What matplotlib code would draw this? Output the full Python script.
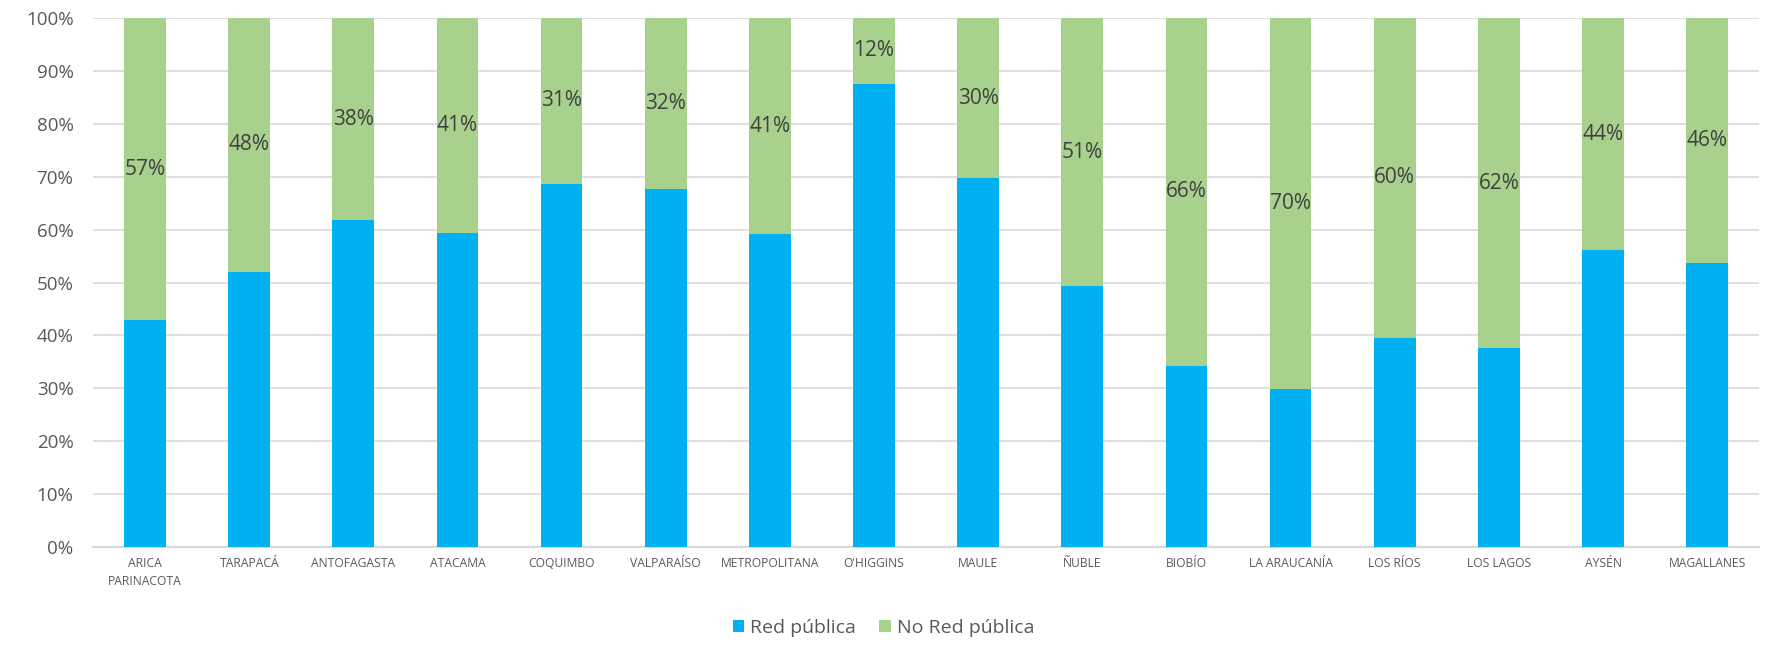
import numpy as np
import matplotlib.pyplot as plt
from matplotlib.ticker import PercentFormatter

# data (percent)
regiones = ['ARICA\nPARINACOTA', 'TARAPACÁ', 'ANTOFAGASTA', 'ATACAMA', 'COQUIMBO',
            'VALPARAÍSO', 'METROPOLITANA', "O'HIGGINS", 'MAULE', 'ÑUBLE', 'BIOBÍO',
            'LA ARAUCANÍA', 'LOS RÍOS', 'LOS LAGOS', 'AYSÉN', 'MAGALLANES']
red_publica = [42.9, 52.0, 61.8, 59.3, 68.7, 67.6, 59.1, 87.6, 69.7, 49.3, 34.3,
               29.9, 39.6, 37.6, 56.1, 53.7]
no_red_publica = [57.1, 48.0, 38.2, 40.7, 31.3, 32.4, 40.9, 12.4, 30.3, 50.7, 65.7,
                  70.1, 60.4, 62.4, 43.9, 46.3]

plt.rcParams['font.family'] = ['Open Sans', 'DejaVu Sans']

fig = plt.figure(figsize=(17.67, 6.45), dpi=100)
ax = fig.add_axes([0.0526, 0.152, 0.943, 0.820])

x = np.arange(len(regiones))
w = 0.40
ax.bar(x, red_publica, w, color='#00B0F0', label='Red pública', zorder=3)
ax.bar(x, no_red_publica, w, bottom=red_publica, color='#A9D18E',
       label='No Red pública', zorder=3)

# labels only on the green segment
for xi, r, n in zip(x, red_publica, no_red_publica):
    ax.text(xi, r + n / 2, f'{n:.0f}%', ha='center', va='center',
            fontsize=15, color='#404040', zorder=4)

ax.set_xlim(-0.5, len(regiones) - 0.5)
ax.set_ylim(0, 100)
ax.set_yticks(np.arange(0, 101, 10))
ax.yaxis.set_major_formatter(PercentFormatter(decimals=0))
ax.grid(axis='y', color='#D9D9D9', linewidth=1.2, zorder=0)
ax.set_xticks(x)
ax.set_xticklabels(regiones, fontsize=8.7, color='#595959', linespacing=1.5)

for s in ['top', 'right', 'left']:
    ax.spines[s].set_visible(False)
ax.spines['bottom'].set_color('#D9D9D9')
ax.spines['bottom'].set_linewidth(1.5)

ax.tick_params(axis='y', length=0, pad=14, labelsize=13.5, labelcolor='#595959')
ax.tick_params(axis='x', length=0, pad=7)

fig.legend(loc='center', bbox_to_anchor=(0.5, 0.027), ncol=2, frameon=False,
           fontsize=14, handlelength=0.6, handleheight=0.6, handletextpad=0.3,
           columnspacing=1.2, labelcolor='#595959')

plt.savefig('out.png')
